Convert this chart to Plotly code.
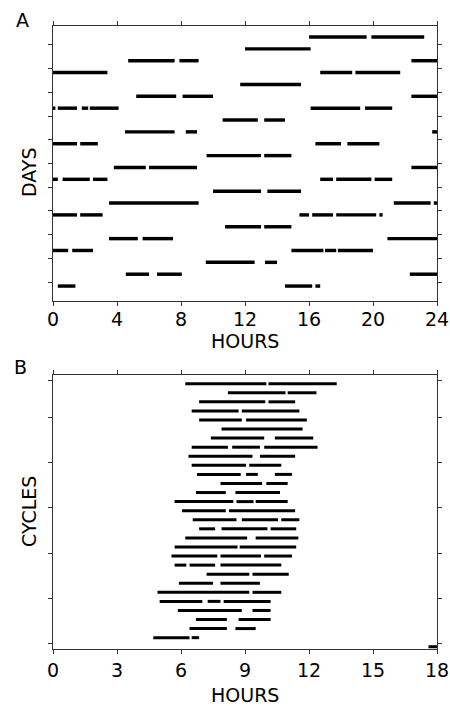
import plotly.graph_objects as go

# ---------------- Panel A data (row index 1..22, bout start/end in hours) ----------------
a_row = [1, 1,
         2,
         3, 3, 3,
         4, 4, 4,
         5,
         6, 6, 6,
         7, 7, 7, 7, 7, 7,
         8, 8,
         9, 9, 9,
         10, 10, 10, 10,
         11, 11,
         12, 12, 12,
         13, 13, 13, 13, 13, 13,
         14, 14,
         15, 15, 15,
         16, 16, 16, 16, 16, 16,
         17, 17,
         18, 18, 18,
         19, 19, 19, 19, 19,
         20, 20,
         21, 21, 21,
         22, 22, 22]
a_start = [16.0, 19.9,
           12.0,
           4.7, 7.9, 22.4,
           0.0, 16.7, 18.9,
           11.7,
           5.2, 8.1, 22.4,
           0.0, 0.3, 1.8, 2.3, 16.1, 19.5,
           10.6, 13.2,
           4.5, 8.3, 23.7,
           0.0, 1.7, 16.4, 18.4,
           9.6, 13.2,
           3.8, 6.0, 22.4,
           0.0, 0.6, 2.5, 16.7, 17.7, 20.1,
           10.0, 13.4,
           3.5, 21.3, 23.8,
           0.0, 1.7, 15.4, 16.2, 17.7, 20.4,
           10.75, 13.2,
           3.5, 5.6, 20.9,
           0.0, 1.2, 14.9, 17.0, 17.8,
           9.55, 13.25,
           4.55, 6.5, 22.3,
           0.3, 14.5, 16.4]
a_end = [19.6, 23.2,
         16.1,
         7.6, 9.1, 24.0,
         3.4, 18.7, 21.7,
         15.5,
         7.7, 10.0, 24.0,
         0.15, 1.5, 2.2, 4.1, 19.2, 21.2,
         12.8, 14.5,
         7.6, 9.0, 24.0,
         1.5, 2.8, 18.0, 20.4,
         13.0, 14.9,
         5.8, 9.0, 24.0,
         0.3, 2.3, 3.4, 17.5, 19.9, 21.2,
         13.0, 15.5,
         9.1, 23.6, 24.0,
         1.5, 3.1, 16.0, 17.5, 20.2, 20.6,
         13.0, 14.9,
         5.3, 7.5, 24.0,
         0.95, 2.5, 16.9, 17.7, 20.0,
         12.6, 14.0,
         6.0, 8.05, 24.0,
         1.4, 16.2, 16.7]
a_xticks = [0, 4, 8, 12, 16, 20, 24]

# ---------------- Panel B data (cycle index 1..30, bout start/end in hours) ----------------
b_row = [1, 1,
         2, 2,
         3, 3,
         4, 4,
         5, 5,
         6,
         7, 7,
         8, 8, 8,
         9, 9,
         10, 10,
         11, 11, 11,
         12, 12,
         13, 13,
         14, 14, 14,
         15, 15,
         16, 16, 16,
         17, 17, 17,
         18, 18,
         19, 19,
         20, 20, 20,
         21, 21, 21,
         22, 22,
         23, 23,
         24, 24,
         25, 25, 25,
         26, 26,
         27, 27,
         28, 28,
         29, 29,
         30]
b_start = [6.2, 10.1,
           8.2, 11.0,
           6.85, 10.1,
           6.5, 8.85,
           6.85, 9.05,
           7.9,
           7.4, 10.4,
           6.5, 8.4, 9.9,
           6.35, 9.7,
           6.5, 9.2,
           6.75, 9.05, 10.4,
           7.85, 10.0,
           6.7, 8.55,
           5.7, 8.6, 9.5,
           6.05, 8.25,
           6.55, 8.85, 10.7,
           6.85, 7.9, 10.2,
           6.2, 9.5,
           5.7, 8.75,
           5.55, 7.85, 9.9,
           5.7, 6.4, 7.85,
           7.2, 9.35,
           5.9, 7.85,
           4.9, 9.35,
           5.0, 7.25, 8.0,
           5.85, 9.35,
           6.7, 8.7,
           6.4, 8.55,
           4.7, 6.5,
           17.6]
b_end = [10.0, 13.3,
         10.9, 12.35,
         9.95, 11.35,
         8.7, 11.55,
         8.85, 11.9,
         11.7,
         9.9, 12.2,
         8.2, 9.7, 12.4,
         9.35, 11.35,
         9.05, 10.7,
         8.8, 9.6, 11.2,
         9.8, 11.0,
         8.1, 10.64,
         8.45, 9.4, 11.0,
         8.1, 11.35,
         8.6, 10.55, 11.55,
         7.6, 10.05, 11.4,
         9.1, 11.5,
         8.65, 11.4,
         7.7, 9.75, 11.2,
         6.25, 7.6, 10.7,
         9.2, 11.05,
         7.5, 9.7,
         9.2, 10.7,
         7.0, 7.85, 10.2,
         8.85, 10.2,
         8.15, 10.2,
         8.15, 9.5,
         6.4, 6.85,
         18.0]
b_xticks = [0, 3, 6, 9, 12, 15, 18]

# ---------------- layout geometry (pixels of the 450x706 page) ----------------
W, H = 450, 706
AX_L, AX_R = 53, 437
A_TOP, A_BOT = 26, 301
B_TOP, B_BOT = 375, 649

# row positions (page px): A row 1 centre at 37px, pitch 11.86px
A_Y0, A_PITCH = 37.0, 11.86
B_Y0, B_PITCH = 383.7, 9.07


def px(x):
    return x / W


def py(y):
    return 1 - y / H


def yrange(top, bot, y0, pitch):
    return [(bot - y0) / pitch + 1, (top - y0) / pitch + 1]


fig = go.Figure()
fig.add_trace(go.Bar(
    orientation="h", y=a_row, base=a_start,
    x=[e - s for s, e in zip(a_start, a_end)],
    width=0.29, marker=dict(color="black", line=dict(width=0)),
    xaxis="x", yaxis="y", hoverinfo="skip", showlegend=False))
fig.add_trace(go.Bar(
    orientation="h", y=b_row, base=b_start,
    x=[e - s for s, e in zip(b_start, b_end)],
    width=0.33, marker=dict(color="black", line=dict(width=0)),
    xaxis="x2", yaxis="y2", hoverinfo="skip", showlegend=False))

axis_common = dict(showline=True, linecolor="#333", linewidth=1, mirror="ticks",
                   ticks="outside", ticklen=4, tickcolor="#333", tickwidth=1,
                   showgrid=False, zeroline=False, automargin=False,
                   tickfont=dict(family="DejaVu Sans", size=19, color="black"))

a_ytick = [1.67 + 2 * k for k in range(11)]
b_ytick = [0.6] + [4.69 + 5 * k for k in range(6)]

fig.update_layout(
    template="none",
    width=W, height=H, margin=dict(l=0, r=0, t=0, b=0, autoexpand=False),
    paper_bgcolor="white", plot_bgcolor="white", barmode="overlay",
    xaxis=dict(domain=[px(AX_L), px(AX_R)], anchor="y", range=[0, 24],
               tickvals=a_xticks, ticktext=[str(v) for v in a_xticks],
               ticklabelstandoff=-3, **axis_common),
    yaxis=dict(domain=[py(A_BOT), py(A_TOP)], anchor="x",
               range=yrange(A_TOP, A_BOT, A_Y0, A_PITCH),
               tickvals=a_ytick, ticktext=[""] * len(a_ytick), **axis_common),
    xaxis2=dict(domain=[px(AX_L), px(AX_R)], anchor="y2", range=[0, 18],
                tickvals=b_xticks, ticktext=[str(v) for v in b_xticks],
                ticklabelstandoff=0, **axis_common),
    yaxis2=dict(domain=[py(B_BOT), py(B_TOP)], anchor="x2",
                range=yrange(B_TOP, B_BOT, B_Y0, B_PITCH),
                tickvals=b_ytick, ticktext=[""] * len(b_ytick), **axis_common),
)

font = dict(family="DejaVu Sans", size=19, color="black")
texts = [
    ("A", 22, 20, 0), ("B", 20, 367, 0),
    ("HOURS", (AX_L + AX_R) / 2, 341, 0), ("HOURS", (AX_L + AX_R) / 2, 695, 0),
    ("DAYS", 29, 172, -90), ("CYCLES", 29, 512, -90),
]
for t, x, y, ang in texts:
    fig.add_annotation(text=t, x=px(x), y=py(y), xref="paper", yref="paper",
                       showarrow=False, textangle=ang, font=font,
                       xanchor="center", yanchor="middle")

# remove the page's default body margin so the figure fills the 450x706 window
fig.write_html("out.html",
               config={"displayModeBar": False},
               post_script="document.body.style.margin='0';"
                           "document.body.style.overflow='hidden';")
